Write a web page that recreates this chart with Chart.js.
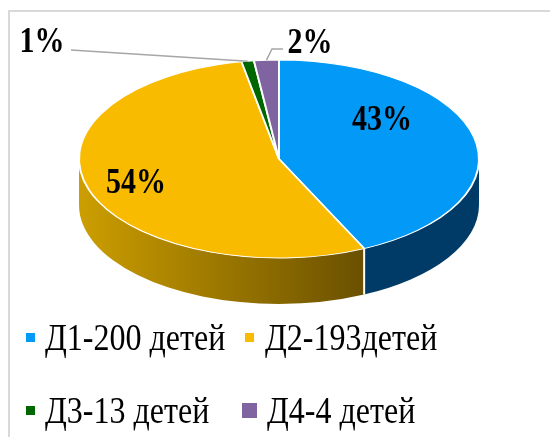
<!DOCTYPE html>
<html>
<head>
<meta charset="utf-8">
<script src="https://cdn.jsdelivr.net/npm/chart.js@4/dist/chart.umd.min.js"></script>
<style>
  html, body { margin: 0; padding: 0; background: #fff; }
  #wrap { position: relative; width: 550px; height: 437px; overflow: hidden; }
  #frame { position: absolute; left: 8px; top: 10px; right: -10px; bottom: -10px;
           border-top: 2px solid #d9d9d9; border-left: 2px solid #d9d9d9; }
  #chart { position: absolute; left: 0; top: 0; }
</style>
</head>
<body>
<div id="wrap">
  <div id="frame"></div>
  <canvas id="chart" width="550" height="437"></canvas>
</div>
<script>
// data
const groups = ['Д1-200 детей', 'Д2-193детей', 'Д3-13 детей', 'Д4-4 детей'];
const shares = [43, 54, 1, 2];
const shareLabels = ['43%', '54%', '1%', '2%'];

// colours: top face, side gradient (left -> right)
const topColors = ['#0399f7', '#f9bb00', '#006600', '#8064a2'];
const sideColors = [['#003a66', '#003a66'], ['#cc9e00', '#6a5000'], ['#004400', '#004400'], ['#584570', '#584570']];

// layout of the tilted pie
const PIE = { x: 279, y: 159, rx: 200, ry: 99, depth: 46 };
const STRETCH = 1.16; // text in the picture is a bit taller than wide
const labelPos = [[382, 130], [136, 193], [42, 52], [310, 53]];
const legendPos = [
  { box: [26, 333, 9], text: [45, 350] },
  { box: [245, 333, 9], text: [265, 350] },
  { box: [26, 406, 9], text: [45, 423] },
  { box: [242, 403, 15], text: [267, 423] },
];

const TAU = Math.PI * 2;

function toScreen(angle) {
  return [PIE.x + PIE.rx * Math.cos(angle), PIE.y + PIE.ry * Math.sin(angle)];
}

const pie3d = {
  id: 'pie3d',
  beforeDatasetsDraw(chart) {
    const ctx = chart.ctx;
    const meta = chart.getDatasetMeta(0);
    const first = meta.data[0].getProps(['x', 'y', 'outerRadius'], true);
    const cx = first.x, cy = first.y, r = first.outerRadius;
    const k = PIE.ry / r;
    const d = PIE.depth / k;

    ctx.save();
    ctx.translate(PIE.x, PIE.y);
    ctx.scale(PIE.rx / r, k);
    ctx.translate(-cx, -cy);

    // front wall of the cylinder, piece by piece
    meta.data.forEach((arc, i) => {
      const { startAngle, endAngle } = arc.getProps(['startAngle', 'endAngle'], true);
      for (let off = -TAU; off <= TAU; off += TAU) {
        const a = Math.max(startAngle, off);
        const b = Math.min(endAngle, off + Math.PI);
        if (b <= a) continue;
        const g = ctx.createLinearGradient(cx + r * Math.cos(b), 0, cx + r * Math.cos(a), 0);
        g.addColorStop(0, sideColors[i][0]);
        g.addColorStop(1, sideColors[i][1]);
        ctx.beginPath();
        ctx.arc(cx, cy, r, a, b);
        ctx.arc(cx, cy + d, r, b, a, true);
        ctx.closePath();
        ctx.fillStyle = g;
        ctx.fill();
      }
      // white seam where a slice starts on the visible wall
      const s = ((startAngle % TAU) + TAU) % TAU;
      if (s > 0.01 && s < Math.PI - 0.01) {
        ctx.beginPath();
        ctx.moveTo(cx + r * Math.cos(s), cy + r * Math.sin(s));
        ctx.lineTo(cx + r * Math.cos(s), cy + r * Math.sin(s) + d);
        ctx.strokeStyle = '#ffffff';
        ctx.lineWidth = 2;
        ctx.stroke();
      }
    });
  },
  afterDatasetsDraw(chart) {
    const ctx = chart.ctx;
    ctx.restore();
    const meta = chart.getDatasetMeta(0);

    // leader lines for the two thin slices
    const mid = (i) => {
      const p = meta.data[i].getProps(['startAngle', 'endAngle'], true);
      return toScreen((p.startAngle + p.endAngle) / 2);
    };
    ctx.save();
    ctx.strokeStyle = '#a6a6a6';
    ctx.lineWidth = 1.5;
    let p = mid(2);
    ctx.beginPath();
    ctx.moveTo(71, 50);
    ctx.lineTo(p[0], p[1]);
    ctx.stroke();
    p = mid(3);
    ctx.beginPath();
    ctx.moveTo(283, 49);
    ctx.lineTo(272, 49);
    ctx.lineTo(p[0], p[1]);
    ctx.stroke();
    ctx.restore();

    // percentage labels
    ctx.save();
    ctx.fillStyle = '#000';
    ctx.font = 'bold 30px "Liberation Serif", "Times New Roman", serif';
    ctx.textAlign = 'center';
    ctx.textBaseline = 'alphabetic';
    shareLabels.forEach((t, i) => {
      ctx.save();
      ctx.translate(labelPos[i][0], labelPos[i][1]);
      ctx.scale(1, STRETCH);
      ctx.fillText(t, 0, 0);
      ctx.restore();
    });
    ctx.restore();

    // legend
    ctx.save();
    ctx.font = '32px "Liberation Serif", "Times New Roman", serif';
    ctx.textAlign = 'left';
    ctx.textBaseline = 'alphabetic';
    groups.forEach((name, i) => {
      const L = legendPos[i];
      ctx.fillStyle = topColors[i];
      ctx.fillRect(L.box[0], L.box[1], L.box[2], L.box[2]);
      ctx.fillStyle = '#000';
      ctx.save();
      ctx.translate(L.text[0], L.text[1]);
      ctx.scale(1, STRETCH);
      ctx.fillText(name, 0, 0);
      ctx.restore();
    });
    ctx.restore();
  },
};

new Chart(document.getElementById('chart'), {
  type: 'pie',
  data: {
    labels: groups,
    datasets: [{
      data: shares,
      backgroundColor: topColors,
      borderColor: '#ffffff',
      borderWidth: 2,
      clip: false,
    }],
  },
  options: {
    responsive: false,
    animation: false,
    radius: 200,
    layout: { padding: 0 },
    events: [],
    plugins: {
      legend: { display: false },
      tooltip: { enabled: false },
    },
  },
  plugins: [pie3d],
});
</script>
</body>
</html>
